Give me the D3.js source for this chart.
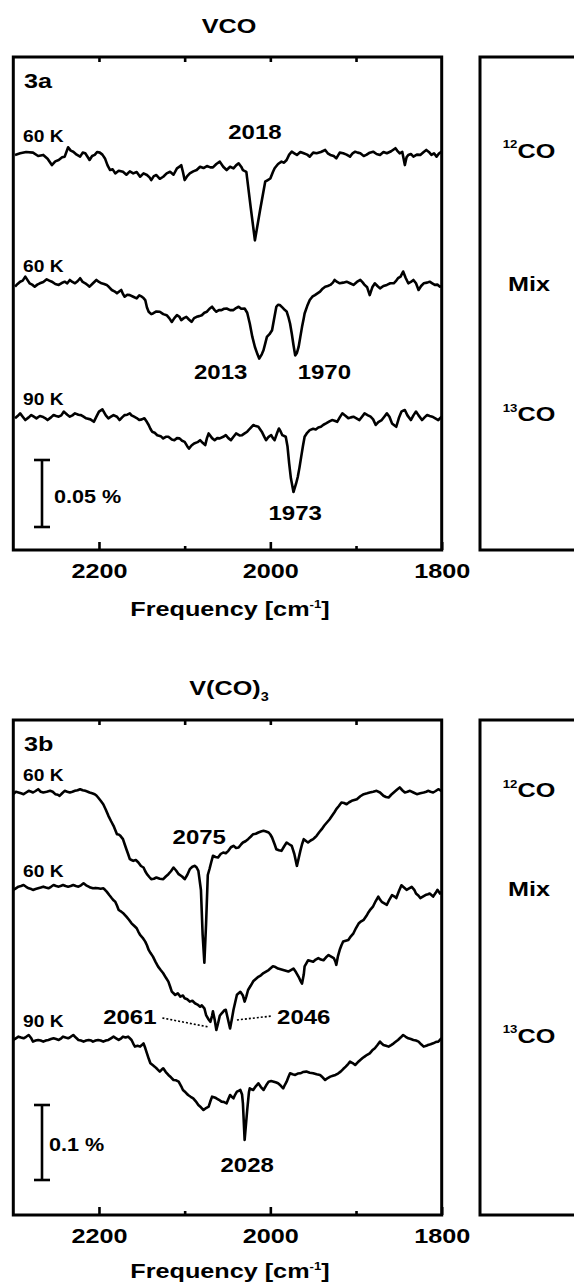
<!DOCTYPE html>
<html><head><meta charset="utf-8">
<script src="https://cdn.jsdelivr.net/npm/d3@7"></script>
<style>html,body{margin:0;padding:0;background:#fff;} svg{display:block;} text{font-family:"Liberation Sans",Arial,sans-serif;font-weight:bold;fill:#000;}</style>
</head><body><svg id="chart" width="574" height="1284"></svg>
<script>
// ---------- DATA (frequency in cm-1, absorbance change in units of 0.01 %) ----------
const freqDomain = [2300, 1800];
const majorTicks = [2200, 2000, 1800];
const minorTicks = [2100, 1900];
const topTicks = [2200, 2100, 2000, 1900];

// Panel 3a : VCO
const vco12 = [[2298,-0.12],[2292,0],[2285,0.1],[2277,0.05],[2271,-0.2],[2265,-0.12],[2260,-0.4],[2255,-0.88],[2251,-0.6],[2247,-0.5],[2243,-0.3],[2240,-0.25],[2236,0.45],[2233,0.2],[2230,0.12],[2226,-0.1],[2222,-0.25],[2219,0.05],[2216,0],[2213,-0.3],[2211,-0.5],[2208,-0.2],[2205,-0.12],[2202,0.1],[2199,0.05],[2196,-0.1],[2193,-0.38],[2190,-0.9],[2187,-1.25],[2184,-1.2],[2181,-1.5],[2177,-1.3],[2172,-1.38],[2168,-1.6],[2164,-1.35],[2160,-1.5],[2156,-1.4],[2152,-1.75],[2148,-1.5],[2144,-1.62],[2141,-1.8],[2139,-2.0],[2136,-1.7],[2133,-1.62],[2129,-1.9],[2125,-1.75],[2121,-1.5],[2117,-1.38],[2113,-1.6],[2109,-1.12],[2106,-1.0],[2104,-0.88],[2102,-1.4],[2100,-2.0],[2097,-1.7],[2094,-1.5],[2090,-1.35],[2086,-1.25],[2082,-1.0],[2078,-1.1],[2074,-0.95],[2070,-1.05],[2067,-1.05],[2063,-0.8],[2059,-0.62],[2055,-1.0],[2051,-1.25],[2047,-1.0],[2043,-1.12],[2040,-0.9],[2037,-0.75],[2034,-1.0],[2032,-1.25],[2028,-1.38],[2023,-4.0],[2018,-6.5],[2012,-4.25],[2006,-2.12],[2003,-2.0],[2000,-1.88],[1997,-1.4],[1995,-1.12],[1991,-0.8],[1987,-0.62],[1984,-0.7],[1981,-0.5],[1978,-0.1],[1975,0.12],[1972,0],[1969,-0.12],[1965,0.1],[1961,0],[1957,-0.1],[1954,-0.25],[1950,0.05],[1946,0],[1941,0.1],[1936,0.25],[1933,0],[1930,-0.12],[1926,-0.2],[1923,-0.38],[1919,0.05],[1915,0],[1911,-0.1],[1907,-0.25],[1904,0],[1901,0.12],[1898,0.05],[1895,0],[1891,-0.2],[1888,-0.12],[1884,0.05],[1880,0.12],[1876,-0.05],[1872,-0.12],[1868,0.1],[1864,0],[1859,0.15],[1854,0.38],[1852,0.2],[1849,0],[1846,0.1],[1843,-0.88],[1841,-0.3],[1839,-0.12],[1836,-0.05],[1833,-0.25],[1829,-0.1],[1825,-0.12],[1821,0.1],[1818,0.25],[1815,0.1],[1812,-0.12],[1809,0],[1806,-0.25],[1803,0],[1800,0.12]];

const vcoMix = [[2298,-0.25],[2295,-0.05],[2292,0.12],[2289,0.2],[2286,0.5],[2283,0.2],[2281,0],[2278,-0.1],[2275,-0.25],[2272,-0.1],[2269,0],[2265,0.1],[2261,0.3],[2258,0.2],[2255,0.12],[2251,-0.05],[2247,-0.12],[2244,0],[2240,0.12],[2237,0],[2234,0.25],[2231,0.1],[2228,0],[2225,0.15],[2222,0.38],[2219,0.1],[2216,0],[2213,-0.15],[2211,-0.25],[2207,0],[2203,0.25],[2200,0.1],[2197,0],[2194,-0.05],[2191,-0.12],[2188,-0.3],[2185,-0.5],[2182,-0.6],[2179,-0.75],[2176,-0.6],[2174,-0.5],[2172,-0.8],[2170,-1.0],[2167,-0.85],[2164,-0.88],[2160,-1.0],[2156,-1.12],[2153,-0.9],[2150,-1.0],[2148,-1.1],[2146,-1.25],[2144,-1.8],[2142,-2.12],[2139,-2.3],[2137,-2.25],[2133,-2.1],[2129,-2.12],[2125,-2.3],[2121,-2.38],[2118,-2.6],[2115,-2.88],[2112,-2.6],[2109,-2.38],[2106,-2.5],[2104,-2.75],[2101,-2.6],[2098,-2.5],[2095,-2.7],[2092,-2.88],[2089,-2.6],[2086,-2.5],[2083,-2.45],[2080,-2.38],[2077,-2.2],[2074,-2.12],[2071,-1.9],[2068,-1.75],[2065,-2.0],[2063,-2.12],[2060,-2.0],[2057,-2.0],[2054,-1.9],[2051,-1.88],[2047,-2.0],[2043,-2.0],[2040,-1.85],[2037,-1.75],[2034,-1.9],[2030,-1.88],[2027,-2.2],[2024,-3.0],[2021,-4.0],[2018,-4.75],[2015,-5.3],[2013,-5.62],[2010,-5.3],[2008,-5.0],[2006,-4.5],[2004,-4.0],[2001,-3.8],[1998,-3.5],[1996,-2.8],[1993,-1.75],[1991,-1.6],[1989,-1.62],[1986,-1.8],[1983,-2.0],[1981,-2.1],[1979,-2.5],[1977,-3.0],[1975,-3.75],[1973,-4.6],[1971,-5.38],[1969,-5.2],[1967,-4.75],[1965,-4.0],[1963,-3.25],[1961,-2.6],[1960,-2.25],[1957,-1.7],[1954,-1.25],[1951,-1.0],[1948,-0.88],[1945,-0.75],[1942,-0.62],[1939,-0.4],[1936,-0.25],[1933,-0.2],[1930,-0.12],[1927,0.05],[1925,0.25],[1922,0.1],[1919,0],[1915,0.05],[1911,0.12],[1907,0],[1903,-0.12],[1899,0.1],[1895,0.25],[1892,0.05],[1890,-0.12],[1887,-0.3],[1884,-0.88],[1881,-0.3],[1878,0],[1875,-0.2],[1872,-0.38],[1868,-0.2],[1864,-0.12],[1860,0],[1856,0],[1853,0.2],[1851,0.38],[1848,0.5],[1845,0.88],[1842,0.4],[1839,0],[1836,0.1],[1833,0.25],[1830,0],[1827,-0.5],[1824,-0.2],[1821,0],[1817,0.05],[1814,0.12],[1811,0],[1808,-0.12],[1805,-0.1],[1802,-0.25],[1800,-0.2]];

const vco13 = [[2298,-0.12],[2295,0.05],[2292,0.25],[2289,0],[2286,-0.25],[2282,-0.05],[2279,0.12],[2276,0],[2273,-0.12],[2269,0.05],[2266,0],[2263,-0.1],[2260,-0.25],[2256,-0.05],[2253,0.12],[2250,0.05],[2247,0],[2244,0.1],[2241,0.38],[2237,0.15],[2234,0],[2231,0.1],[2228,0.25],[2224,0.15],[2221,0.12],[2218,0],[2215,-0.12],[2210,-0.2],[2206,-0.38],[2203,0],[2200,0.38],[2196,0.55],[2192,0.1],[2189,-0.12],[2186,0],[2183,0.12],[2179,0],[2176,-0.25],[2173,-0.05],[2170,0.12],[2167,0.15],[2164,0.25],[2162,0.1],[2159,0],[2156,-0.1],[2153,-0.25],[2150,-0.2],[2147,-0.12],[2144,-0.4],[2142,-0.62],[2140,-0.9],[2138,-1.12],[2135,-1.2],[2132,-1.38],[2128,-1.45],[2125,-1.62],[2122,-1.5],[2119,-1.5],[2115,-1.7],[2112,-1.75],[2109,-1.6],[2106,-1.62],[2103,-1.8],[2100,-1.88],[2097,-2.2],[2095,-2.38],[2092,-2.15],[2089,-2.0],[2085,-1.9],[2082,-1.75],[2079,-1.95],[2076,-2.12],[2074,-1.6],[2072,-1.25],[2068,-1.6],[2065,-1.75],[2062,-1.6],[2059,-1.62],[2055,-1.5],[2052,-1.38],[2049,-1.6],[2046,-1.75],[2043,-1.5],[2040,-1.25],[2036,-1.4],[2033,-1.38],[2030,-1.25],[2027,-1.12],[2024,-0.9],[2020,-0.62],[2017,-0.7],[2014,-0.75],[2010,-1.12],[2007,-1.5],[2005,-1.75],[2002,-1.5],[1999,-1.38],[1997,-1.6],[1995,-1.75],[1992,-1.2],[1990,-0.88],[1988,-1.1],[1986,-1.38],[1982,-1.5],[1980,-2.2],[1978,-3.5],[1976,-4.6],[1973,-5.62],[1970,-5.0],[1968,-4.5],[1966,-3.8],[1964,-3.0],[1962,-2.2],[1960,-1.5],[1957,-1.2],[1954,-1.0],[1950,-0.9],[1947,-0.95],[1944,-0.8],[1941,-0.75],[1938,-0.6],[1935,-0.5],[1931,-0.35],[1928,-0.25],[1925,-0.3],[1922,-0.38],[1919,-0.05],[1916,0.25],[1912,0.05],[1909,-0.12],[1906,-0.05],[1903,0],[1900,-0.1],[1896,-0.25],[1893,0],[1890,0.25],[1886,0.1],[1883,0],[1880,-0.2],[1877,-0.62],[1874,-0.4],[1870,-0.25],[1867,0],[1864,0.25],[1861,0],[1858,-0.5],[1855,-0.65],[1853,-0.75],[1850,-0.1],[1847,0.38],[1845,0.45],[1843,0.5],[1840,0.1],[1836,-0.25],[1833,0.1],[1830,0.38],[1827,0.1],[1823,-0.25],[1820,-0.05],[1817,0.12],[1814,0.05],[1811,0],[1808,-0.1],[1804,-0.25],[1800,0]];

// Panel 3b : V(CO)3
const vco3_12 = [[2300,-0.22],[2297,0.1],[2294,0],[2291,-0.1],[2288,-0.22],[2285,0],[2282,0.22],[2279,0.1],[2277,0],[2274,0.2],[2271,0.44],[2268,0.1],[2265,0],[2261,0.1],[2257,0.22],[2254,0.1],[2251,-0.22],[2248,-0.3],[2246,-0.44],[2243,-0.1],[2240,0.22],[2237,0.1],[2234,0],[2231,0.1],[2228,0.22],[2225,0.3],[2222,0.44],[2219,0.3],[2216,0.22],[2213,0.1],[2211,0],[2208,-0.1],[2205,-0.22],[2203,-0.4],[2201,-0.67],[2198,-1.1],[2195,-1.56],[2192,-2.3],[2189,-3.11],[2186,-3.8],[2183,-4.44],[2181,-5.0],[2179,-5.56],[2177,-5.6],[2175,-5.78],[2172,-6.22],[2170,-6.9],[2168,-7.56],[2166,-8.2],[2164,-8.89],[2162,-9.0],[2160,-9.11],[2157,-9.0],[2154,-9.33],[2151,-9.8],[2148,-10.0],[2146,-10.5],[2144,-10.89],[2141,-11.3],[2139,-11.56],[2136,-11.5],[2133,-11.33],[2129,-11.5],[2125,-11.56],[2122,-11.2],[2119,-10.89],[2116,-10.5],[2113,-10.0],[2110,-10.4],[2107,-10.89],[2103,-11.2],[2100,-11.56],[2097,-11.0],[2094,-10.22],[2091,-9.9],[2088,-9.78],[2086,-10.0],[2084,-10.44],[2081,-13.0],[2079,-19.0],[2077,-22.7],[2075,-17.5],[2073,-11.0],[2071,-10.2],[2069,-9.3],[2067,-8.44],[2064,-8.6],[2061,-8.67],[2058,-8.2],[2055,-8.0],[2052,-8.1],[2049,-7.78],[2046,-7.3],[2043,-7.11],[2040,-7.4],[2037,-7.33],[2034,-6.9],[2032,-6.67],[2029,-6.5],[2026,-6.22],[2023,-5.9],[2020,-5.56],[2017,-5.5],[2014,-5.33],[2011,-5.2],[2008,-5.11],[2005,-5.2],[2002,-5.33],[2000,-5.6],[1998,-6.0],[1995,-6.9],[1993,-7.56],[1990,-7.7],[1987,-7.78],[1984,-7.2],[1981,-6.67],[1978,-6.9],[1975,-7.11],[1972,-8.2],[1969,-9.78],[1967,-8.8],[1965,-7.78],[1963,-6.9],[1961,-6.22],[1958,-6.5],[1956,-6.67],[1953,-6.4],[1950,-6.22],[1948,-6.0],[1946,-5.78],[1943,-5.3],[1940,-4.89],[1937,-4.4],[1934,-4.0],[1931,-3.6],[1928,-3.11],[1925,-2.6],[1923,-2.22],[1920,-1.8],[1917,-1.33],[1914,-1.4],[1911,-1.56],[1908,-1.3],[1905,-1.11],[1902,-1.0],[1899,-0.89],[1895,-0.5],[1891,-0.22],[1887,-0.1],[1884,0],[1880,0.1],[1876,0.22],[1872,0],[1868,-0.44],[1865,-0.6],[1862,-0.67],[1859,-0.3],[1856,0],[1852,0.4],[1849,0.67],[1846,0.3],[1843,0],[1840,0.1],[1837,0.22],[1833,0],[1829,-0.22],[1825,-0.1],[1821,0],[1818,0.1],[1816,0.22],[1813,0.1],[1810,0],[1807,0.2],[1804,0.44],[1800,0.2]];

const vco3_mix = [[2300,-0.22],[2297,0],[2294,0.22],[2291,0.3],[2288,0.44],[2285,0.2],[2282,0],[2279,-0.1],[2277,-0.22],[2274,-0.1],[2271,0],[2268,0.1],[2265,0.22],[2262,0.1],[2259,0],[2256,0.2],[2253,0.44],[2250,0.3],[2247,0.22],[2244,0.35],[2242,0.44],[2239,0.3],[2236,0.22],[2233,0.3],[2230,0.44],[2227,0.3],[2224,0.22],[2221,0.4],[2218,0.67],[2215,0.4],[2212,0.22],[2210,0.1],[2207,0],[2204,0.05],[2201,0],[2198,-0.05],[2195,0],[2193,-0.2],[2191,-0.44],[2188,-0.9],[2185,-1.33],[2183,-1.6],[2181,-1.78],[2179,-2.3],[2177,-2.89],[2174,-3.11],[2171,-3.4],[2168,-3.78],[2165,-4.2],[2162,-4.67],[2159,-5.0],[2156,-5.33],[2154,-5.8],[2152,-6.22],[2149,-6.6],[2146,-7.11],[2144,-7.6],[2142,-8.22],[2140,-8.6],[2137,-9.11],[2134,-9.8],[2131,-10.44],[2128,-10.9],[2125,-11.33],[2122,-11.9],[2119,-12.44],[2117,-13.1],[2115,-13.78],[2113,-14.0],[2111,-14.22],[2108,-14.0],[2105,-14.44],[2102,-14.3],[2100,-14.67],[2097,-14.8],[2094,-15.11],[2091,-15.0],[2088,-15.33],[2085,-15.5],[2082,-15.78],[2080,-15.6],[2077,-16.0],[2075,-16.9],[2072,-17.5],[2070,-17.8],[2068,-17.0],[2067,-16.4],[2065,-17.5],[2063,-18.9],[2061,-18.0],[2059,-17.0],[2057,-16.7],[2054,-16.3],[2052,-16.2],[2050,-17.2],[2047,-18.7],[2045,-17.5],[2043,-16.2],[2041,-15.2],[2039,-14.2],[2037,-14.0],[2035,-13.8],[2032,-14.3],[2030,-15.1],[2028,-14.4],[2026,-13.56],[2023,-13.0],[2020,-12.4],[2017,-12.1],[2014,-11.8],[2011,-11.6],[2008,-11.3],[2005,-11.1],[2002,-10.9],[1999,-10.6],[1997,-10.4],[1994,-10.5],[1991,-10.7],[1988,-10.8],[1985,-10.9],[1982,-11.0],[1979,-11.1],[1976,-10.9],[1973,-10.7],[1970,-11.2],[1967,-11.8],[1965,-12.3],[1963,-12.7],[1961,-11.5],[1960,-10.4],[1958,-10.0],[1956,-9.6],[1953,-9.7],[1950,-9.8],[1947,-9.5],[1944,-9.3],[1941,-9.5],[1938,-9.6],[1935,-9.2],[1932,-8.9],[1929,-9.1],[1926,-9.3],[1924,-9.8],[1923,-10.2],[1921,-9.0],[1919,-8.2],[1917,-7.6],[1915,-7.1],[1912,-7.0],[1909,-6.9],[1906,-6.4],[1903,-6.0],[1900,-5.3],[1897,-4.7],[1894,-4.4],[1891,-4.2],[1888,-3.7],[1886,-3.3],[1883,-2.8],[1880,-2.4],[1877,-1.7],[1874,-1.1],[1872,-1.5],[1870,-1.8],[1867,-2.0],[1864,-2.2],[1861,-1.5],[1858,-0.9],[1855,-1.1],[1853,-1.3],[1850,-0.4],[1847,0.4],[1844,0.1],[1841,-0.2],[1838,0],[1835,0.2],[1832,-0.2],[1830,-0.7],[1827,-1.0],[1825,-1.3],[1822,-1.1],[1819,-0.9],[1816,-0.8],[1814,-0.7],[1812,-0.9],[1810,-1.1],[1807,-0.6],[1805,-0.2],[1802,-0.7],[1800,-0.5]];

const vco3_13 = [[2300,-0.22],[2297,0],[2294,0.22],[2291,0.1],[2288,0],[2285,0.2],[2282,0.44],[2279,0],[2277,-0.44],[2274,-0.3],[2271,-0.22],[2268,-0.3],[2265,-0.44],[2262,-0.3],[2259,-0.22],[2256,-0.1],[2253,0],[2250,-0.1],[2247,-0.22],[2244,0],[2242,0.22],[2239,0.1],[2236,0],[2233,0.2],[2230,0.44],[2227,0.1],[2224,-0.22],[2221,-0.3],[2218,-0.44],[2215,-0.3],[2212,-0.22],[2209,-0.3],[2207,-0.44],[2204,-0.3],[2201,-0.22],[2198,-0.3],[2195,-0.44],[2192,-0.3],[2189,-0.22],[2186,0],[2183,0.22],[2180,0],[2177,-0.22],[2174,0],[2172,0.22],[2169,0.1],[2166,0.22],[2164,0],[2162,-0.22],[2160,-0.7],[2158,-1.11],[2155,-1.0],[2152,-1.11],[2150,-0.9],[2148,-0.67],[2146,-1.3],[2144,-2.0],[2142,-2.7],[2140,-3.33],[2137,-3.6],[2135,-3.78],[2132,-4.1],[2129,-4.44],[2127,-4.2],[2125,-4.0],[2122,-4.5],[2119,-4.89],[2116,-5.2],[2113,-5.56],[2110,-5.6],[2107,-5.78],[2104,-6.4],[2102,-6.89],[2099,-7.2],[2096,-7.56],[2093,-7.8],[2090,-8.0],[2087,-8.4],[2084,-8.89],[2081,-9.2],[2078,-9.56],[2075,-9.3],[2072,-9.11],[2070,-8.4],[2068,-7.78],[2065,-7.9],[2063,-8.0],[2060,-8.2],[2057,-8.44],[2054,-8.5],[2051,-8.67],[2049,-8.1],[2047,-7.56],[2045,-7.8],[2043,-8.0],[2041,-7.5],[2039,-7.11],[2037,-7.0],[2035,-6.89],[2033,-7.5],[2032,-8.67],[2030,-13.56],[2027,-9.56],[2025,-7.2],[2024,-6.67],[2022,-6.8],[2020,-6.89],[2017,-6.4],[2014,-6.0],[2011,-6.5],[2008,-6.89],[2005,-6.3],[2002,-5.78],[1999,-5.7],[1996,-5.78],[1993,-5.9],[1991,-6.0],[1988,-6.3],[1985,-6.67],[1983,-6.2],[1981,-5.78],[1979,-5.2],[1977,-4.67],[1974,-4.8],[1971,-4.89],[1968,-4.7],[1965,-4.67],[1962,-4.5],[1958,-4.44],[1954,-4.6],[1950,-4.67],[1946,-4.8],[1942,-4.89],[1939,-5.2],[1936,-5.56],[1933,-5.3],[1930,-5.11],[1927,-5.0],[1924,-4.89],[1921,-4.7],[1918,-4.44],[1915,-4.1],[1912,-3.78],[1909,-3.4],[1907,-3.11],[1904,-3.3],[1901,-3.56],[1898,-3.2],[1895,-2.89],[1892,-2.6],[1890,-2.44],[1887,-2.2],[1884,-2.0],[1881,-1.6],[1878,-1.33],[1875,-0.9],[1872,-0.44],[1870,-0.7],[1868,-0.89],[1865,-1.0],[1862,-1.11],[1859,-0.9],[1856,-0.67],[1853,-0.4],[1851,-0.22],[1848,0.1],[1845,0.44],[1842,0.2],[1839,0],[1836,-0.1],[1833,-0.22],[1830,-0.3],[1827,-0.44],[1824,-0.8],[1821,-1.11],[1818,-1.0],[1816,-0.89],[1813,-0.8],[1810,-0.67],[1807,-0.5],[1804,-0.44],[1802,-0.2],[1800,0]];

const tempLabelsA = ["60 K", "60 K", "90 K"];
const tempLabelsB = ["60 K", "60 K", "90 K"];
const sampleLabels = ["12", "Mix", "13"];
// peak annotations: text, frequency where the label is centred
const peakLabelsA = [["2018", 2018], ["2013", 2058], ["1970", 1937], ["1973", 1971]];
const peakLabelsB = [["2075", 2083], ["2061", 2164], ["2046", 1961], ["2028", 2027]];
const scaleA = 5;   // 0.05 %
const scaleB = 10;  // 0.1 %

// ---------- LAYOUT ----------
const svg = d3.select("#chart");
const X0 = 13.3, X1 = 441.7;
const x = d3.scaleLinear().domain(freqDomain).range([X0, X1]);

const panels = [
  {label:"3a", y0:57, y1:550, pxPerUnit:13.4, baselines:[153.3, 283.3, 416.7],
   traces:[vco12, vcoMix, vco13], temps:tempLabelsA, titleY:25, tickLabY:570, freqLabY:608,
   peaks:peakLabelsA, peakY:[132, 372, 372, 513]},
  {label:"3b", y0:720, y1:1215, pxPerUnit:7.5, baselines:[792.5, 888.3, 1038.3],
   traces:[vco3_12, vco3_mix, vco3_13], temps:tempLabelsB, titleY:687, tickLabY:1235, freqLabY:1270,
   peaks:peakLabelsB, peakY:[837, 1017, 1017, 1165]}
];
const SX = 1.2; // horizontal stretch of the lettering

function txt(x0, y0, size, anchor) {
  return svg.append("text")
    .attr("transform", `translate(${x0},${y0}) scale(${SX},1)`)
    .attr("font-size", size).attr("text-anchor", anchor || "start")
    .attr("dy", "0.36em");
}

panels.forEach((p, pi) => {
  const span = (p.y1 - p.y0) / p.pxPerUnit;
  const y = d3.scaleLinear().domain([0, -span]).range([p.y0, p.y1]);
  const offsets = p.baselines.map(b => y.invert(b));

  // title
  const tt = txt(229, p.titleY, 21, "middle");
  if (pi === 0) tt.text("VCO");
  else { tt.append("tspan").text("V(CO)"); tt.append("tspan").attr("font-size", 12).attr("dy", 6).text("3"); }

  // traces
  const line = d3.line().x(d => x(d[0])).curve(d3.curveLinear);
  p.traces.forEach((tr, i) => {
    line.y(d => y(d[1] + offsets[i]));
    svg.append("path").attr("d", line(tr)).attr("fill", "none")
      .attr("stroke", "#000").attr("stroke-width", 2.6).attr("stroke-linejoin", "round");
  });

  // frames
  svg.append("rect").attr("x", X0).attr("y", p.y0).attr("width", X1 - X0).attr("height", p.y1 - p.y0)
    .attr("fill", "none").attr("stroke", "#000").attr("stroke-width", 3);
  svg.append("rect").attr("x", 480).attr("y", p.y0).attr("width", 200).attr("height", p.y1 - p.y0)
    .attr("fill", "none").attr("stroke", "#000").attr("stroke-width", 3);

  // axes
  const axB = d3.axisBottom(x).tickValues(majorTicks).tickSize(-8).tickPadding(12).tickFormat(d3.format("d"));
  const gB = svg.append("g").attr("transform", `translate(0,${p.y1})`).call(axB);
  const axBm = d3.axisBottom(x).tickValues(minorTicks).tickSize(-4).tickFormat("");
  const gBm = svg.append("g").attr("transform", `translate(0,${p.y1})`).call(axBm);
  const axT = d3.axisTop(x).tickValues(topTicks).tickSize(-5).tickFormat("");
  const gT = svg.append("g").attr("transform", `translate(0,${p.y0})`).call(axT);
  [gB, gBm, gT].forEach(g => {
    g.select(".domain").remove();
    g.selectAll("line").attr("stroke", "#000").attr("stroke-width", 2.6);
  });
  gB.selectAll("text").attr("font-size", 21).attr("font-family", "Liberation Sans, Arial, sans-serif")
    .attr("font-weight", "bold").attr("fill", "#000")
    .attr("y", p.tickLabY - p.y1).attr("dy", "0.36em").attr("transform", `scale(${SX},1)`);

  // x-axis title
  const ft = txt(230, p.freqLabY, 21, "middle");
  ft.append("tspan").text("Frequency [cm");
  ft.append("tspan").attr("font-size", 11).attr("dy", -8).text("-1");
  ft.append("tspan").attr("dy", 8).text("]");

  // panel label
  txt(24, p.y0 + 23, 21, "start").text(p.label);

  // temperature labels
  p.temps.forEach((t, i) => txt(23, p.baselines[i] - 17, 16, "start").text(t));

  // sample labels in right box
  sampleLabels.forEach((s, i) => {
    const yy = p.baselines[i];
    if (s === "Mix") { txt(529, yy, 21, "middle").text("Mix"); }
    else {
      const t = txt(529, yy, 21, "middle");
      t.append("tspan").attr("font-size", 11).attr("dy", "-0.45em").text(s);
      t.append("tspan").attr("dy", "0.45em").text("CO");
    }
  });

  // peak labels
  p.peaks.forEach((pk, i) => txt(x(pk[1]), p.peakY[i], 20, "middle").text(pk[0]));

  // scale bar
  const barTop = pi === 0 ? 460 : 1105;
  const barLen = (pi === 0 ? scaleA : scaleB) * p.pxPerUnit;
  const bx = 42;
  const sb = svg.append("g").attr("stroke", "#000").attr("stroke-width", 2.6);
  sb.append("line").attr("x1", bx).attr("x2", bx).attr("y1", barTop).attr("y2", barTop + barLen);
  sb.append("line").attr("x1", bx - 8).attr("x2", bx + 8).attr("y1", barTop).attr("y2", barTop);
  sb.append("line").attr("x1", bx - 8).attr("x2", bx + 8).attr("y1", barTop + barLen).attr("y2", barTop + barLen);
  txt(pi === 0 ? 54 : 49, pi === 0 ? 497 : 1145, 18, "start").text(pi === 0 ? "0.05 %" : "0.1 %");
});

// dotted leaders for the 2061 / 2046 pair
const lead = svg.append("g").attr("stroke", "#000").attr("stroke-width", 1.6).attr("stroke-dasharray", "2,2");
lead.append("line").attr("x1", x(2126)).attr("y1", 1018).attr("x2", x(2072)).attr("y2", 1027);
lead.append("line").attr("x1", x(2039)).attr("y1", 1020).attr("x2", x(1998)).attr("y2", 1016);
</script></body></html>
